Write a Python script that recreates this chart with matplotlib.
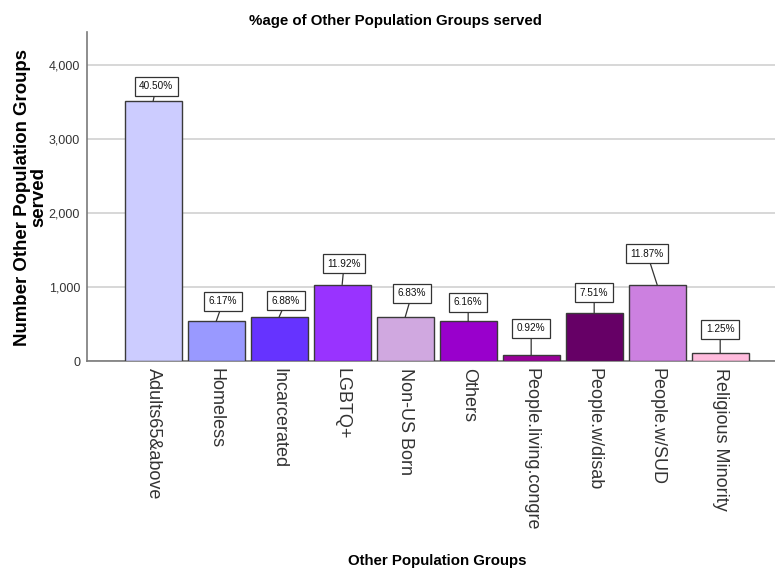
import matplotlib
matplotlib.use("Agg")
import matplotlib.pyplot as plt
from matplotlib.ticker import FuncFormatter

categories = ["Adults65&above", "Homeless", "Incarcerated", "LGBTQ+", "Non-US Born",
              "Others", "People.living.congre", "People.w/disab", "People.w/SUD",
              "Religious Minority"]
counts = [3515, 535, 597, 1034, 593, 535, 80, 652, 1030, 108]
pct_labels = ["40.50%", "6.17%", "6.88%", "11.92%", "6.83%", "6.16%", "0.92%",
              "7.51%", "11.87%", "1.25%"]
colors = ["#ccccff", "#9999ff", "#6633ff", "#9933ff", "#d0a8e0", "#9900cc",
          "#990099", "#660066", "#cc80e0", "#ffbbdd"]
yticks = [0, 1000, 2000, 3000, 4000]

# label box centre offsets (pixels) relative to bar top centre
label_dx = [3, 7, 7, 2, 7, 0, 0, 0, -10, 0]
label_dy = [15, 20, 16, 21, 24, 19, 27, 20, 31, 24]

REG = ["Liberation Sans", "DejaVu Sans"]

fig = plt.figure(figsize=(7.75, 5.71), dpi=100)
W, H = 775, 571
ax = fig.add_axes([87 / W, (H - 361) / H, (775 - 87) / W, (361 - 32) / H])

x = list(range(len(categories)))
ax.bar(x, counts, width=0.9, color=colors, edgecolor="#3a3a3a", linewidth=1.0, zorder=3)

ax.set_xlim(-1.05, 9.87)
ax.set_ylim(0, 4450)
ax.set_yticks(yticks)
ax.yaxis.set_major_formatter(FuncFormatter(lambda v, p: f"{int(v):,}"))
ax.grid(axis="y", color="#d4d4d4", linewidth=1.3, zorder=0)
ax.set_axisbelow(True)

for s in ["top", "right"]:
    ax.spines[s].set_visible(False)
ax.spines["left"].set_color("#7a7a7a")
ax.spines["bottom"].set_color("#7a7a7a")
ax.spines["left"].set_linewidth(1.2)
ax.spines["bottom"].set_linewidth(1.2)
ax.tick_params(axis="y", length=0, pad=5, labelsize=9, labelcolor="#333333")
ax.tick_params(axis="x", length=0, pad=5)
for t in ax.get_yticklabels():
    t.set_family(REG)

ax.set_xticks(x)
ax.set_xticklabels(categories, rotation=270, fontsize=13, family=REG,
                   color="#333333", va="top", ha="center")

for i, (v, lab) in enumerate(zip(counts, pct_labels)):
    ax.annotate(lab, xy=(i, v), xytext=(label_dx[i], label_dy[i]),
                textcoords="offset pixels", ha="center", va="center",
                fontsize=7.2, family=REG, color="#111111",
                bbox=dict(boxstyle="square,pad=0.45", fc="white", ec="#333333", lw=0.9),
                arrowprops=dict(arrowstyle="-", color="#333333", lw=0.9,
                                shrinkA=0, shrinkB=0),
                zorder=5)

fig.text(395.5 / W, 1 - 21 / H, "%age of Other Population Groups served",
         ha="center", va="center", fontsize=10.8, fontweight="bold", family=REG)
fig.text(437.5 / W, 1 - 561 / H, "Other Population Groups",
         ha="center", va="center", fontsize=10.8, fontweight="bold", family=REG)
fig.text(31 / W, 1 - 197 / H, "Number Other Population Groups\nserved",
         ha="center", va="center", rotation=90, fontsize=13.4, fontweight="bold",
         family=REG, linespacing=0.95)

fig.savefig("out.png", dpi=100)
